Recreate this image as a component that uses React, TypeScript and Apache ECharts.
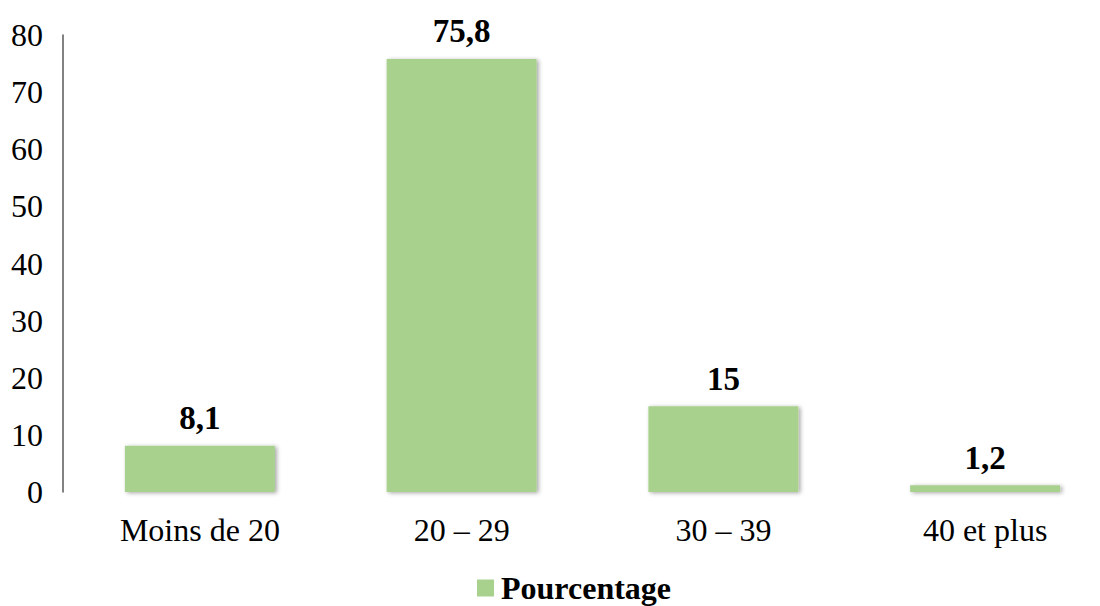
import React, { useEffect, useRef } from "react";
import * as echarts from "echarts";

// Répartition par tranche d'âge (en %)
const categories = ["Moins de 20", "20 – 29", "30 – 39", "40 et plus"];
const percentages = [8.1, 75.8, 15, 1.2];
const seriesName = "Pourcentage";
const yTicks = { min: 0, max: 80, interval: 10 };

const FONT = "'Liberation Serif', 'Times New Roman', serif";

export default function App() {
  const ref = useRef<HTMLDivElement>(null);

  useEffect(() => {
    if (!ref.current) return;
    const chart = echarts.init(ref.current, null, { renderer: "svg" });
    chart.setOption({
      animation: false,
      backgroundColor: "#ffffff",
      textStyle: { fontFamily: FONT },
      grid: { left: 69, top: 35, width: 1047, height: 457 },
      legend: {
        data: [seriesName],
        left: 477,
        top: 572,
        padding: 0,
        itemWidth: 17,
        itemHeight: 17,
        itemGap: 10,
        icon: "rect",
        textStyle: {
          fontFamily: FONT,
          fontSize: 32,
          lineHeight: 28,
          fontWeight: "bold",
          color: "#000000",
          padding: [0, 0, 0, 2],
        },
      },
      xAxis: {
        type: "category",
        data: categories,
        axisTick: { show: false },
        axisLine: {
          show: true,
          lineStyle: {
            color: "#d9d9d9",
            width: 2.5,
            shadowColor: "rgba(0,0,0,0.15)",
            shadowBlur: 2,
            shadowOffsetY: 1,
          },
        },
        axisLabel: {
          fontFamily: FONT,
          fontSize: 32,
          color: "#000000",
          margin: 22,
        },
      },
      yAxis: {
        type: "value",
        min: yTicks.min,
        max: yTicks.max,
        interval: yTicks.interval,
        offset: 6,
        splitLine: { show: false },
        axisTick: { show: false },
        axisLine: { show: true, lineStyle: { color: "#595959", width: 1.5 } },
        axisLabel: {
          fontFamily: FONT,
          fontSize: 32,
          color: "#000000",
          margin: 20,
        },
      },
      series: [
        {
          name: seriesName,
          type: "bar",
          data: percentages,
          barWidth: 150,
          itemStyle: {
            color: "#a9d18e",
            shadowColor: "rgba(0,0,0,0.35)",
            shadowBlur: 4,
            shadowOffsetX: 2,
            shadowOffsetY: 1,
          },
          label: {
            show: true,
            position: "top",
            distance: 11,
            fontFamily: FONT,
            fontSize: 33,
            fontWeight: "bold",
            color: "#000000",
            formatter: (p: any) => String(p.value).replace(".", ","),
          },
        },
      ],
    });
    return () => chart.dispose();
  }, []);

  // The plot area runs past the right edge, so the chart canvas is wider
  // than the visible frame and clipped by it.
  return (
    <div
      style={{
        position: "absolute",
        left: 0,
        top: 0,
        width: 1100,
        height: 606,
        overflow: "hidden",
      }}
    >
      <div ref={ref} style={{ width: 1140, height: 606 }} />
    </div>
  );
}
